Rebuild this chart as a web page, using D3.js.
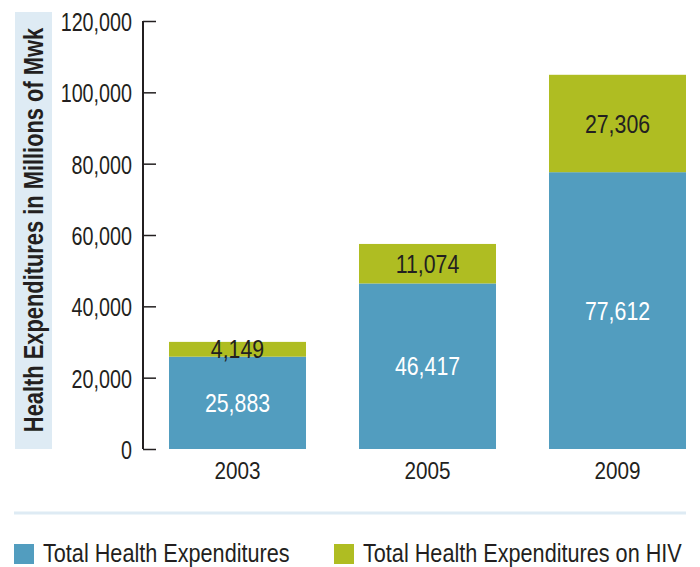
<!DOCTYPE html>
<html><head><meta charset="utf-8">
<script src="https://cdn.jsdelivr.net/npm/d3@7"></script>
<style>
body{margin:0;background:#fff;}
svg{display:block;}
text{font-family:"Liberation Sans",Arial,sans-serif;}
</style></head>
<body>
<script>
const categories = ["2003", "2005", "2009"];
const totalHealth = [25883, 46417, 77612];
const hivHealth = [4149, 11074, 27306];
const yTicks = [0, 20000, 40000, 60000, 80000, 100000, 120000];
const seriesNames = ["Total Health Expenditures", "Total Health Expenditures on HIV"];
const colors = ["#529dbf", "#afbd22"];
const ink = "#231f20";

const W = 700, H = 567;
const svg = d3.select("body").append("svg").attr("width", W).attr("height", H);

const y = d3.scaleLinear().domain([0, 120000]).range([449, 21]);
const x = d3.scaleBand().domain(categories).range([150, 705]).paddingInner(0.279).paddingOuter(0.1);

// condensed-looking text: horizontal squeeze
function ctext(parent, px, py, k, extra) {
  return parent.append("text")
    .attr("transform", `translate(${px},${py})${extra || ""} scale(${k},1)`);
}

// y label box
svg.append("rect").attr("x", 15).attr("y", 12).attr("width", 37).attr("height", 437).attr("fill", "#deebf4");
ctext(svg, 43, 230, 0.81, " rotate(-90)")
  .attr("text-anchor", "middle")
  .attr("font-size", 27).attr("font-weight", "bold").attr("fill", ink)
  .text("Health Expenditures in Millions of Mwk");

// y axis
const yAxis = d3.axisRight(y).tickValues(yTicks).tickSize(13).tickFormat(d3.format(","));
const ga = svg.append("g").attr("transform", "translate(143,0)").call(yAxis);
ga.select(".domain").attr("stroke", ink).attr("stroke-width", 2).attr("d", "M0,21V449");
ga.selectAll(".tick line").attr("stroke", ink).attr("stroke-width", 1.5);
const tk = 0.79;
ga.selectAll(".tick text").attr("x", -11 / tk).attr("text-anchor", "end").attr("dy", "0.38em")
  .attr("transform", `scale(${tk},1)`)
  .attr("font-size", 25).attr("fill", ink).attr("font-family", "'Liberation Sans',Arial,sans-serif");

// bars
const data = categories.map((c, i) => ({c, a: totalHealth[i], b: hivHealth[i]}));
const cx = c => x(c) + x.bandwidth() / 2;
svg.selectAll("rect.a").data(data).join("rect").attr("class", "a")
  .attr("x", d => x(d.c)).attr("width", x.bandwidth())
  .attr("y", d => y(d.a)).attr("height", d => y(0) - y(d.a)).attr("fill", colors[0]);
svg.selectAll("rect.b").data(data).join("rect").attr("class", "b")
  .attr("x", d => x(d.c)).attr("width", x.bandwidth())
  .attr("y", d => y(d.a + d.b)).attr("height", d => y(d.a) - y(d.a + d.b)).attr("fill", colors[1]);

const fmt = d3.format(",");
data.forEach(d => {
  ctext(svg, cx(d.c), (y(0) + y(d.a)) / 2, 0.82).attr("dy", "0.35em")
    .attr("text-anchor", "middle").attr("font-size", 26).attr("fill", "#fff").text(fmt(d.a));
  ctext(svg, cx(d.c), (y(d.a) + y(d.a + d.b)) / 2, 0.82).attr("dy", "0.35em")
    .attr("text-anchor", "middle").attr("font-size", 26).attr("fill", ink).text(fmt(d.b));
});

// x labels
categories.forEach(c => {
  ctext(svg, cx(c), 479, 0.9).attr("text-anchor", "middle")
    .attr("font-size", 23).attr("fill", ink).text(c);
});

// legend
svg.append("line").attr("x1", 14).attr("x2", 686).attr("y1", 513).attr("y2", 513)
  .attr("stroke", "#deebf4").attr("stroke-width", 3);
const lx = [14, 334];
seriesNames.forEach((n, i) => {
  svg.append("rect").attr("x", lx[i]).attr("y", 544).attr("width", 20).attr("height", 20).attr("fill", colors[i]);
  ctext(svg, lx[i] + 29, 562, 0.866).attr("font-size", 25).attr("fill", ink).text(n);
});
</script>
</body></html>
